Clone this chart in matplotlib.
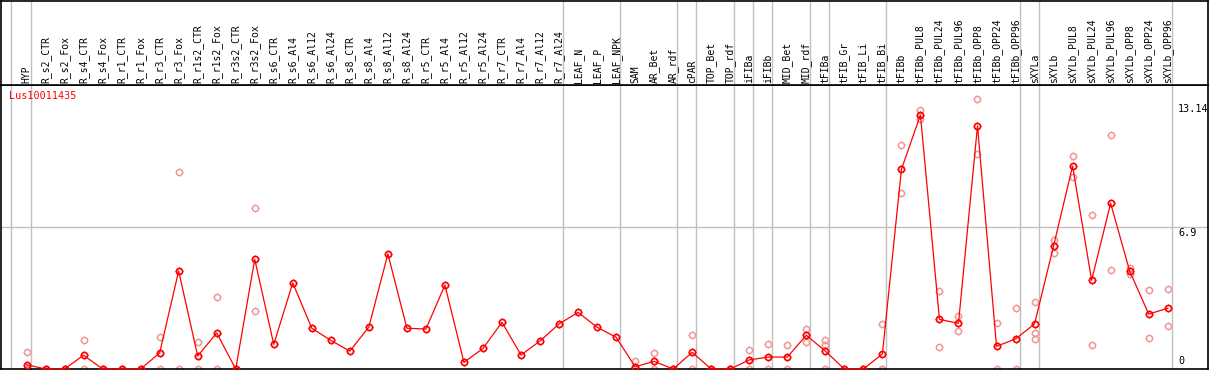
import matplotlib
matplotlib.use('Agg')
import matplotlib.pyplot as plt
from matplotlib.path import Path
from matplotlib.transforms import blended_transform_factory

gene = "Lus10011435"

categories = [
    "HYP", "R_s2_CTR", "R_s2_Fox", "R_s4_CTR", "R_s4_Fox", "R_r1_CTR", "R_r1_Fox",
    "R_r3_CTR", "R_r3_Fox", "R_r1s2_CTR", "R_r1s2_Fox", "R_r3s2_CTR", "R_r3s2_Fox",
    "R_s6_CTR", "R_s6_Al4", "R_s6_Al12", "R_s6_Al24", "R_s8_CTR", "R_s8_Al4",
    "R_s8_Al12", "R_s8_Al24", "R_r5_CTR", "R_r5_Al4", "R_r5_Al12", "R_r5_Al24",
    "R_r7_CTR", "R_r7_Al4", "R_r7_Al12", "R_r7_Al24", "LEAF_N", "LEAF_P", "LEAF_NPK",
    "SAM", "AR_Bet", "AR_rdf", "cPAR", "TOP_Bet", "TOP_rdf", "iFIBa", "iFIBb",
    "MID_Bet", "MID_rdf", "tFIBa", "tFIB_Gr", "tFIB_Li", "tFIB_Bi", "tFIBb",
    "tFIBb_PUL8", "tFIBb_PUL24", "tFIBb_PUL96", "tFIBb_OPP8", "tFIBb_OPP24",
    "tFIBb_OPP96", "sXYLa", "sXYLb", "sXYLb_PUL8", "sXYLb_PUL24", "sXYLb_PUL96",
    "sXYLb_OPP8", "sXYLb_OPP24", "sXYLb_OPP96",
]

means = [
    0.21, 0, 0, 0.67, 0, 0, 0,
    0.78, 4.76, 0.63, 1.75, 0, 5.33,
    1.20, 4.18, 1.98, 1.39, 0.87, 2.04,
    5.59, 1.98, 1.94, 4.08, 0.32, 1.00,
    2.27, 0.68, 1.36, 2.19, 2.75, 2.03, 1.54,
    0.11, 0.37, 0, 0.81, 0, 0, 0.44, 0.58,
    0.58, 1.64, 0.87, 0, 0, 0.73, 9.70,
    12.34, 2.41, 2.22, 11.81, 1.10,
    1.46, 2.19, 5.98, 9.86, 4.31, 8.05,
    4.76, 2.67, 2.95,
]

replicates = [
    [0.84, 0], [0, 0], [0, 0], [1.41, 0], [0, 0], [0, 0], [0, 0],
    [1.54, 0], [9.56, 0], [1.31, 0], [3.50, 0], [0, 0], [7.81, 2.82],
    [], [], [], [], [], [],
    [], [], [], [], [], [],
    [], [], [], [], [], [], [],
    [0.40, 0], [0.78, 0], [0, 0], [1.65, 0], [0, 0], [0, 0], [0.92, 0], [1.21, 0],
    [1.15, 0], [1.96, 1.31], [1.42, 1.17, 0], [0, 0], [0, 0], [2.17, 0, 0], [10.88, 8.54],
    [12.58, 12.15], [3.79, 1.07], [2.59, 1.85], [13.14, 10.43], [2.22, 0],
    [2.95, 0], [3.26, 1.76, 1.44], [6.27, 5.64], [10.34, 9.35], [7.48, 1.15], [11.36, 4.80],
    [4.92, 4.60], [3.82, 1.51], [3.87, 2.09],
]

group_sizes = [1, 28, 3, 3, 1, 2, 1, 1, 2, 1, 3, 7, 1, 7]

RED = "#ff0000"
PINK = "#f09696"
GREY = "#c0c0c0"
MONO = "DejaVu Sans Mono"

W, H = 1209, 370
fig = plt.figure(figsize=(W / 100, H / 100), dpi=100)
ax = fig.add_axes([1 / W, 1 / H, 1207 / W, 284 / H])
hx = fig.add_axes([1 / W, 285 / H, 1207 / W, 84.5 / H], sharex=ax)

step = 19.02
x0 = 26.5
ax.set_xlim((1 - x0) / step, (1208 - x0) / step)

ymax = max(v for r in replicates for v in r)
top = ymax * 1.05
ax.set_ylim(0, top)
hx.set_ylim(0, 1)

for a in (ax, hx):
    a.set_xticks([])
    a.set_yticks([])
    for s in a.spines.values():
        s.set_color("black")
        s.set_linewidth(1.2)

# group separators
b = -1
seps = [b]
for g in group_sizes:
    b += g
    seps.append(b)
for s in seps:
    for a in (ax, hx):
        a.axvline(s + 4 / step, color=GREY, lw=1.0, zorder=0)

ax.axhline(top / 2, color=GREY, lw=1.0, zorder=0)

# tick-only marker (drawn over a circle marker)
tick = 1.45
ticks_marker = Path(
    [[0, 1], [0, tick], [0, -1], [0, -tick], [1, 0], [tick, 0], [-1, 0], [-tick, 0]],
    [Path.MOVETO, Path.LINETO] * 4,
)
CIRC = 4.4    # circle diameter in points
TICKS = CIRC * tick


def draw_markers(xv, yv, color, mew, z):
    ax.plot(xv, yv, linestyle="none", marker="o", markersize=CIRC,
            markerfacecolor="none", markeredgecolor=color, markeredgewidth=mew,
            clip_on=False, zorder=z)
    ax.plot(xv, yv, linestyle="none", marker=ticks_marker, markersize=TICKS,
            markerfacecolor="none", markeredgecolor=color, markeredgewidth=0.8,
            clip_on=False, zorder=z)


xs = list(range(len(categories)))
rx, ry = [], []
for i, r in enumerate(replicates):
    for v in r:
        rx.append(i)
        ry.append(v)
draw_markers(rx, ry, PINK, 1.1, 2)
ax.plot(xs, means, color=RED, lw=0.9, zorder=3, clip_on=False)
draw_markers(xs, means, RED, 1.25, 4)

# header labels
tr = blended_transform_factory(hx.transData, hx.transAxes)
for i, c in enumerate(categories):
    hx.text(i, 2 / 84.5, c, rotation=90, ha="center", va="bottom",
            fontfamily=MONO, fontsize=7, transform=tr)

# gene name
ax.annotate(gene, xy=(0, 1), xycoords="axes fraction", xytext=(8, -6),
            textcoords="offset pixels", ha="left", va="top", color=RED,
            fontfamily=MONO, fontsize=7.3)

# right scale labels
scale = [(ymax, f"{ymax:.2f}", "top", -5), (top / 2, f"{top / 2:.1f}", "top", -1),
         (0, "0", "bottom", 3)]
for val, lbl, va, dy in scale:
    ax.annotate(lbl, xy=(1, val), xycoords=("axes fraction", "data"),
                xytext=(-30, dy), textcoords="offset pixels", ha="left", va=va,
                fontfamily=MONO, fontsize=7.3, color="black")

fig.savefig("out.png", dpi=100)
